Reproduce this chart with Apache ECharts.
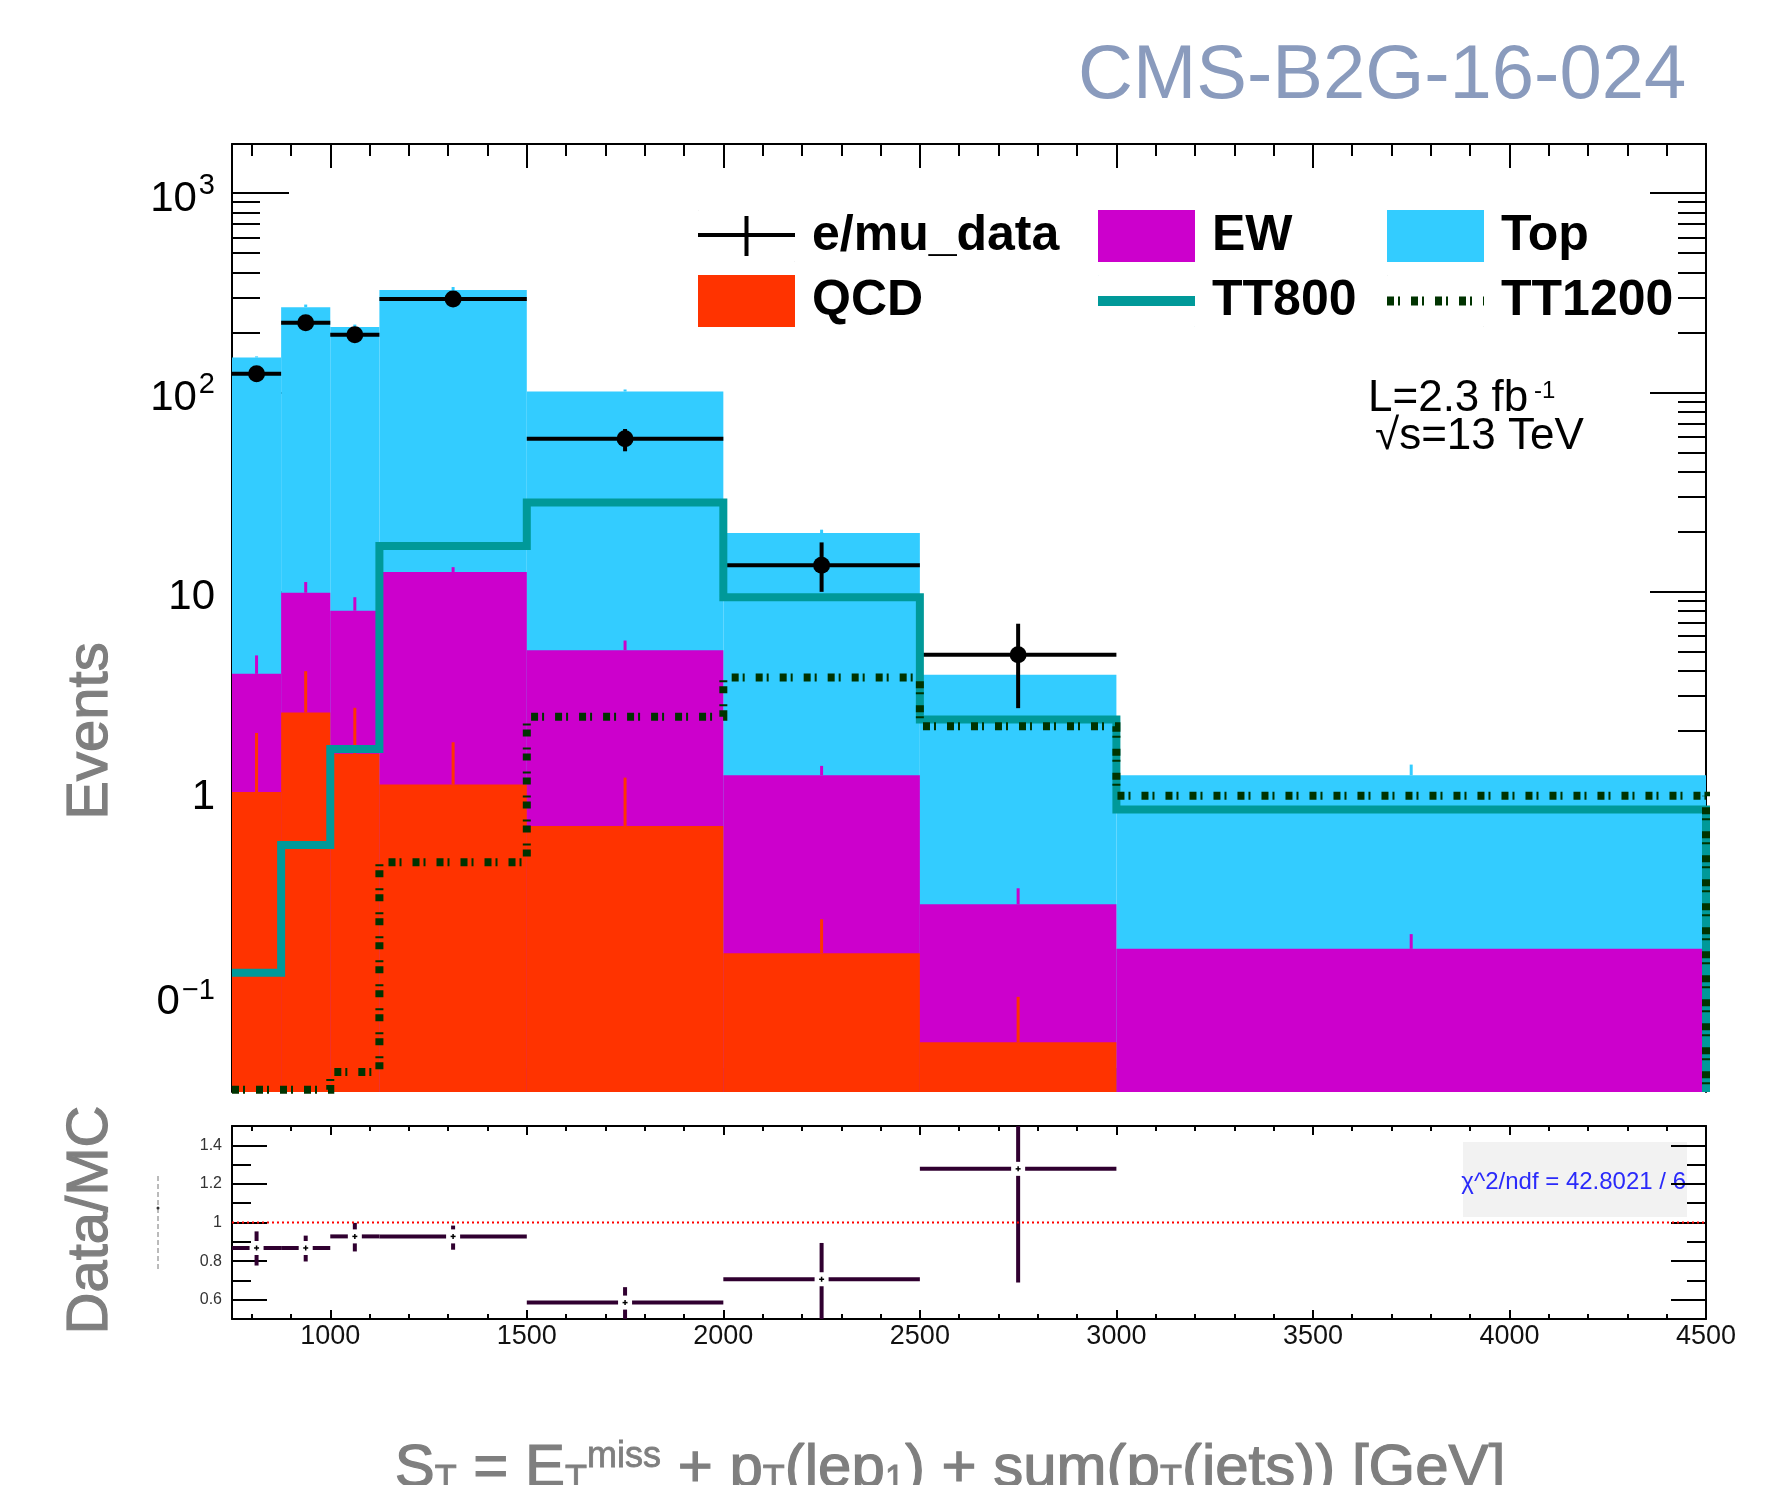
<!DOCTYPE html>
<html>
<head>
<meta charset="utf-8">
<title>CMS-B2G-16-024</title>
<script src="https://cdn.jsdelivr.net/npm/echarts@6.0.0/dist/echarts.min.js"></script>
<style>
  html, body { margin: 0; padding: 0; background: #fff; }
  #chart { width: 1791px; height: 1485px; }
</style>
</head>
<body>
<div id="chart"></div>
<script>
// S_T spectrum, e/mu channel: data vs stacked MC (QCD, EW, Top) and two signal points

// bin edges [GeV]
const binEdges = [750, 875, 1000, 1125, 1500, 2000, 2500, 3000, 4500];

// background yields per component (stacked QCD -> EW -> Top)
const qcdYield = [0.99, 2.48, 1.54, 1.08, 0.67, 0.154, 0.055, 0];
const ewYield = [2.89, 7.42, 6.5, 11.5, 4.43, 1.05, 0.216, 0.162];
const topYield = [146, 258, 205, 314, 96, 18.5, 3.57, 1.04];

// upper end of the MC stat error of each stacked layer
const qcdErrHigh = [1.96, 4.0, 2.62, 1.76, 1.17, 0.228, 0.093, 0];
const ewErrHigh = [4.8, 11.2, 9.4, 13.3, 5.7, 1.34, 0.326, 0.192];
const topErrHigh = [151.7, 276, 219, 338, 103.5, 20.5, 3.96, 1.36];

// signal hypotheses
const tt800 = [0.123, 0.537, 1.63, 17.0, 28.1, 9.4, 2.29, 0.81];
const tt1200 = [0.0318, 0.0318, 0.039, 0.44, 2.36, 3.72, 2.12, 0.95];

// data (nothing in the last bin)
const dataCounts = [124, 224, 195, 294, 58.6, 13.6, 4.84];
const dataLow = [113, 209, 181, 277, 50.7, 10.0, 2.61];
const dataHigh = [135, 239, 209, 311, 65.6, 17.7, 6.92];

// data / MC
const ratioVals = [0.868, 0.868, 0.928, 0.928, 0.585, 0.706, 1.278];
const ratioLow = [0.777, 0.798, 0.85, 0.859, 0.48, 0.45, 0.689];
const ratioHigh = [0.954, 0.932, 0.998, 0.984, 0.665, 0.894, 1.8];

// ticks
const xMajorTicks = [1000, 1500, 2000, 2500, 3000, 3500, 4000, 4500];
const yMajorTicks = [0.1, 1, 10, 100, 1000];
const yLabelText = { '3': '{b|10}{s|3}', '2': '{b|10}{s|2}', '1': '{b|10}', '0': '{b|1}', '-1': '{c|0}{d|\u22121}' };
const ratioMajorTicks = [0.6, 0.8, 1, 1.2, 1.4];
const ratioMinorTicks = [0.7, 0.9, 1.1, 1.3];

const X_MIN = 750, X_MAX = 4500;
const Y_MIN = 0.031, Y_MAX = 1763;
const R_MIN = 0.5, R_MAX = 1.5;
const FONT = 'Liberation Sans';

const TOP_COLOR = '#33ccff';
const EW_COLOR = '#cc00cc';
const QCD_COLOR = '#ff3300';
const TT800_COLOR = '#009999';
const TT1200_COLOR = '#003300';
const RATIO_COLOR = '#300030';
const GRAY = '#7f7f7f';

const xMinorTicks = [];
for (let v = 800; v < X_MAX; v += 100) {
    if (v % 500 !== 0) xMinorTicks.push(v);
}
const yMinorTicks = [];
[0.01, 0.1, 1, 10, 100, 1000].forEach(d => {
    for (let k = 2; k <= 9; k++) {
        const v = +(d * k).toPrecision(3);
        if (v > Y_MIN && v < Y_MAX) yMinorTicks.push(v);
    }
});

// cumulative heights of the stack
const qcdTop = qcdYield.slice();
const ewTop = qcdYield.map((q, i) => q + ewYield[i]);
const totalTop = ewTop.map((e, i) => e + topYield[i]);

// axis helpers
function xAxisCfg(gridIndex, position, ticks, len, showLine, label) {
    return {
        type: 'value', gridIndex, position, min: X_MIN, max: X_MAX,
        axisLine: { show: showLine, onZero: false, lineStyle: { color: '#000', width: 2 } },
        axisTick: { show: true, inside: true, length: len, customValues: ticks, lineStyle: { color: '#000', width: 2 } },
        axisLabel: label || { show: false },
        splitLine: { show: false }
    };
}

function yAxisCfg(gridIndex, position, type, min, max, ticks, len, showLine, label) {
    return {
        type, gridIndex, position, min, max,
        axisLine: { show: showLine, onZero: false, lineStyle: { color: '#000', width: 2 } },
        axisTick: { show: true, inside: true, length: len, customValues: ticks, lineStyle: { color: '#000', width: 2 } },
        axisLabel: label || { show: false },
        splitLine: { show: false }
    };
}

// one filled layer of the stack, drawn from the axis floor up to its cumulative height
function layerSeries(name, color, heights, errHigh) {
    return {
        name, type: 'custom', xAxisIndex: 0, yAxisIndex: 0, clip: true, silent: true,
        itemStyle: { color },
        encode: { x: [0, 1], y: [2] },
        data: heights.map((h, i) => [binEdges[i], binEdges[i + 1], h, errHigh[i]]),
        renderItem: (params, api) => {
            const h = api.value(2);
            if (!(h > 0)) return null;
            const x0 = api.value(0), x1 = api.value(1), xc = (x0 + x1) / 2;
            const tl = api.coord([x0, h]);
            const br = api.coord([x1, Y_MIN]);
            const children = [{
                type: 'rect',
                shape: { x: tl[0], y: tl[1], width: br[0] - tl[0], height: br[1] - tl[1] },
                style: { fill: color }
            }];
            const e = api.value(3);
            if (e > h) {
                const c = api.coord([xc, h]);
                const ce = api.coord([xc, e]);
                children.push({
                    type: 'line',
                    shape: { x1: c[0], y1: c[1], x2: ce[0], y2: ce[1] },
                    style: { stroke: color, lineWidth: 3 }
                });
            }
            return { type: 'group', children };
        }
    };
}

// histogram outline as a step line, with the drop at the last edge
function stepPoints(vals) {
    const last = binEdges[binEdges.length - 1];
    const pts = vals.map((v, i) => [binEdges[i], v]);
    pts.push([last, vals[vals.length - 1]]);
    pts.push([last, Y_MIN]);
    return pts;
}

const ICON_BOX = 'path://M0,0h0.2v0.2h-0.2zM96.8,51.8h0.2v0.2h-0.2z';
const iconCross = ICON_BOX + 'M0,23h97v4h-97zM46.5,6h4v40h-4z';
const iconThick = ICON_BOX + 'M0,21h97v10h-97z';
let iconDashDot = ICON_BOX;
for (let x = 0; x < 97; x += 24) {
    iconDashDot += 'M' + x + ',21.5h' + Math.min(7, 97 - x) + 'v9h-' + Math.min(7, 97 - x) + 'z';
    if (x + 11 < 97) iconDashDot += 'M' + (x + 11) + ',21.5h2v9h-2z';
}

function legendCol(left, items) {
    return {
        left, top: 210, orient: 'vertical', padding: 0,
        itemWidth: 97, itemHeight: 52, itemGap: 13, selectedMode: false,
        textStyle: { fontFamily: FONT, fontSize: 50, fontWeight: 'bold', color: '#000', padding: [0, 0, 4, 12] },
        data: items
    };
}

const chart = echarts.init(document.getElementById('chart'), null, { renderer: 'canvas' });

chart.setOption({
    animation: false,
    backgroundColor: '#fff',
    grid: [
        { left: 232, right: 85, top: 144, height: 948 },
        { left: 232, right: 85, top: 1126, height: 193 }
    ],
    legend: [
        legendCol(698, [
            { name: 'e/mu_data', icon: iconCross, itemStyle: { color: '#000', borderWidth: 0 } },
            { name: 'QCD', icon: 'rect', itemStyle: { color: QCD_COLOR, borderWidth: 0 } }
        ]),
        legendCol(1098, [
            { name: 'EW', icon: 'rect', itemStyle: { color: EW_COLOR, borderWidth: 0 } },
            { name: 'TT800', icon: iconThick, itemStyle: { color: TT800_COLOR, borderWidth: 0 } }
        ]),
        legendCol(1387, [
            { name: 'Top', icon: 'rect', itemStyle: { color: TOP_COLOR, borderWidth: 0 } },
            { name: 'TT1200', icon: iconDashDot, itemStyle: { color: TT1200_COLOR, borderWidth: 0 } }
        ])
    ],
    xAxis: [
        xAxisCfg(0, 'bottom', xMajorTicks, 24, false),
        xAxisCfg(0, 'bottom', xMinorTicks, 12, false),
        xAxisCfg(0, 'top', xMajorTicks, 24, true),
        xAxisCfg(0, 'top', xMinorTicks, 12, false),
        xAxisCfg(1, 'bottom', xMajorTicks, 9, true, {
            show: true, customValues: xMajorTicks, margin: 4,
            fontFamily: FONT, fontSize: 27, color: '#111',
            formatter: v => String(v)
        }),
        xAxisCfg(1, 'bottom', xMinorTicks, 5, false),
        xAxisCfg(1, 'top', xMajorTicks, 9, true),
        xAxisCfg(1, 'top', xMinorTicks, 5, false)
    ],
    yAxis: [
        yAxisCfg(0, 'left', 'log', Y_MIN, Y_MAX, yMajorTicks, 57, true, {
            show: true, customValues: yMajorTicks, margin: 17,
            formatter: v => yLabelText[String(Math.round(Math.log10(v)))] || '',
            rich: {
                b: { fontFamily: FONT, fontSize: 42, lineHeight: 44, color: '#000', padding: [12, 0, 0, 0] },
                s: { fontFamily: FONT, fontSize: 29, lineHeight: 29, color: '#000', verticalAlign: 'top', padding: [0, 0, 0, 2] },
                c: { fontFamily: FONT, fontSize: 42, lineHeight: 44, color: '#000', padding: [24, 0, 0, 0] },
                d: { fontFamily: FONT, fontSize: 29, lineHeight: 29, color: '#000', verticalAlign: 'top', padding: [8, 0, 0, 2] }
            }
        }),
        yAxisCfg(0, 'left', 'log', Y_MIN, Y_MAX, yMinorTicks, 28, false),
        yAxisCfg(0, 'right', 'log', Y_MIN, Y_MAX, yMajorTicks, 56, true),
        yAxisCfg(0, 'right', 'log', Y_MIN, Y_MAX, yMinorTicks, 28, false),
        yAxisCfg(1, 'left', 'value', R_MIN, R_MAX, ratioMajorTicks, 35, true, {
            show: true, customValues: ratioMajorTicks, margin: 10,
            fontFamily: FONT, fontSize: 16, color: '#333',
            formatter: v => String(Math.round(v * 10) / 10)
        }),
        yAxisCfg(1, 'left', 'value', R_MIN, R_MAX, ratioMinorTicks, 19, false),
        yAxisCfg(1, 'right', 'value', R_MIN, R_MAX, ratioMajorTicks, 35, true),
        yAxisCfg(1, 'right', 'value', R_MIN, R_MAX, ratioMinorTicks, 19, false)
    ],
    series: [
        layerSeries('Top', TOP_COLOR, totalTop, topErrHigh),
        layerSeries('EW', EW_COLOR, ewTop, ewErrHigh),
        layerSeries('QCD', QCD_COLOR, qcdTop, qcdErrHigh),
        {
            name: 'TT800', type: 'line', xAxisIndex: 0, yAxisIndex: 0, step: 'end',
            symbol: 'none', silent: true, clip: true,
            data: stepPoints(tt800),
            itemStyle: { color: TT800_COLOR },
            lineStyle: { color: TT800_COLOR, width: 8, cap: 'butt', join: 'miter' }
        },
        {
            name: 'TT1200', type: 'line', xAxisIndex: 0, yAxisIndex: 0, step: 'end',
            symbol: 'none', silent: true, clip: true,
            data: stepPoints(tt1200),
            itemStyle: { color: TT1200_COLOR },
            lineStyle: { color: TT1200_COLOR, width: 8, type: [7, 4, 2, 11], cap: 'butt', join: 'miter' }
        },
        {
            name: 'e/mu_data', type: 'custom', xAxisIndex: 0, yAxisIndex: 0, clip: true, silent: true,
            itemStyle: { color: '#000' },
            encode: { x: [0, 1], y: [2, 3, 4] },
            data: dataCounts.map((v, i) => [binEdges[i], binEdges[i + 1], v, dataLow[i], dataHigh[i]]),
            renderItem: (params, api) => {
                const x0 = api.value(0), x1 = api.value(1), v = api.value(2), xc = (x0 + x1) / 2;
                const l = api.coord([x0, v]), r = api.coord([x1, v]), c = api.coord([xc, v]);
                const lo = api.coord([xc, api.value(3)]), hi = api.coord([xc, api.value(4)]);
                const st = { stroke: '#000', lineWidth: 4 };
                return {
                    type: 'group', children: [
                        { type: 'line', shape: { x1: l[0], y1: l[1], x2: r[0], y2: r[1] }, style: st },
                        { type: 'line', shape: { x1: c[0], y1: lo[1], x2: c[0], y2: hi[1] }, style: st },
                        { type: 'circle', shape: { cx: c[0], cy: c[1], r: 8.5 }, style: { fill: '#000' } }
                    ]
                };
            }
        },
        {
            name: 'unity', type: 'line', xAxisIndex: 4, yAxisIndex: 4,
            symbol: 'none', silent: true,
            data: [[X_MIN, 1], [X_MAX, 1]],
            lineStyle: { color: '#ff0000', width: 2, type: [2, 3] }
        },
        {
            name: 'ratio', type: 'custom', xAxisIndex: 4, yAxisIndex: 4, clip: true, silent: true,
            itemStyle: { color: RATIO_COLOR },
            encode: { x: [0, 1], y: [2, 3, 4] },
            data: ratioVals.map((v, i) => [binEdges[i], binEdges[i + 1], v, ratioLow[i], ratioHigh[i]]),
            renderItem: (params, api) => {
                const gap = 7;
                const x0 = api.value(0), x1 = api.value(1), v = api.value(2), xc = (x0 + x1) / 2;
                const l = api.coord([x0, v]), r = api.coord([x1, v]), c = api.coord([xc, v]);
                const lo = api.coord([xc, api.value(3)]), hi = api.coord([xc, api.value(4)]);
                const st = { stroke: RATIO_COLOR, lineWidth: 4 };
                const mk = { stroke: '#000', lineWidth: 1.5 };
                const children = [
                    { type: 'line', shape: { x1: l[0], y1: c[1], x2: c[0] - gap, y2: c[1] }, style: st },
                    { type: 'line', shape: { x1: c[0] + gap, y1: c[1], x2: r[0], y2: c[1] }, style: st },
                    { type: 'line', shape: { x1: c[0] - 2.5, y1: c[1], x2: c[0] + 2.5, y2: c[1] }, style: mk },
                    { type: 'line', shape: { x1: c[0], y1: c[1] - 2.5, x2: c[0], y2: c[1] + 2.5 }, style: mk }
                ];
                if (hi[1] < c[1] - gap) {
                    children.push({ type: 'line', shape: { x1: c[0], y1: c[1] - gap, x2: c[0], y2: hi[1] }, style: st });
                }
                if (lo[1] > c[1] + gap) {
                    children.push({ type: 'line', shape: { x1: c[0], y1: c[1] + gap, x2: c[0], y2: lo[1] }, style: st });
                }
                return { type: 'group', children };
            }
        }
    ],
    graphic: [
        {
            type: 'text', x: 1078, y: 77, silent: true,
            style: { text: 'CMS-B2G-16-024', font: '76px "Liberation Sans"', fill: '#8a9bbd', align: 'left', verticalAlign: 'middle' }
        },
        {
            type: 'text', x: 1368, y: 399, silent: true,
            style: { text: 'L=2.3 fb', font: '44px "Liberation Sans"', fill: '#000', align: 'left', verticalAlign: 'middle' }
        },
        {
            type: 'text', x: 1534, y: 391, silent: true,
            style: { text: '-1', font: '24px "Liberation Sans"', fill: '#000', align: 'left', verticalAlign: 'middle' }
        },
        {
            type: 'text', x: 1375, y: 437, silent: true,
            style: { text: '\u221As=13 TeV', font: '44px "Liberation Sans"', fill: '#000', align: 'left', verticalAlign: 'middle' }
        },
        {
            type: 'rect', silent: true,
            shape: { x: 1463, y: 1142, width: 224, height: 75 },
            style: { fill: '#f2f2f2' }
        },
        {
            type: 'text', x: 1686, y: 1182, silent: true,
            style: { text: '\u03C7^2/ndf = 42.8021 / 6', font: '24px "Liberation Sans"', fill: '#2a2afa', align: 'right', verticalAlign: 'middle' }
        },
        {
            type: 'text', x: 91, y: 731, rotation: Math.PI / 2, silent: true,
            style: { text: 'Events', font: '58px "Liberation Sans"', fill: GRAY, stroke: GRAY, lineWidth: 1.2, align: 'center', verticalAlign: 'middle' }
        },
        {
            type: 'text', x: 91, y: 1220, rotation: Math.PI / 2, silent: true,
            style: { text: 'Data/MC', font: '58px "Liberation Sans"', fill: GRAY, stroke: GRAY, lineWidth: 1.2, align: 'center', verticalAlign: 'middle' }
        },
        {
            type: 'text', x: 950, y: 1469, silent: true,
            style: {
                text: '{n|S}{sb|T}{n| = E}{sb|T}{sp|miss}{n| + p}{sb|T}{n|(lep}{sb|1}{n|) + sum(p}{sb|T}{n|(jets)) [GeV]}',
                align: 'center', verticalAlign: 'middle',
                rich: {
                    n: { fontFamily: FONT, fontSize: 60, lineHeight: 60, fill: GRAY, stroke: GRAY, lineWidth: 1.2 },
                    sb: { fontFamily: FONT, fontSize: 36, lineHeight: 36, fill: GRAY, stroke: GRAY, lineWidth: 0.8, verticalAlign: 'bottom' },
                    sp: { fontFamily: FONT, fontSize: 36, lineHeight: 36, fill: GRAY, stroke: GRAY, lineWidth: 0.8, verticalAlign: 'top' }
                }
            }
        },
        {
            type: 'line', silent: true,
            shape: { x1: 158, y1: 1176, x2: 158, y2: 1270 },
            style: { stroke: '#777', lineWidth: 1, lineDash: [5, 3] }
        },
        {
            type: 'circle', silent: true,
            shape: { cx: 158, cy: 1208, r: 1.5 },
            style: { fill: '#333' }
        }
    ]
});
</script>
</body>
</html>
